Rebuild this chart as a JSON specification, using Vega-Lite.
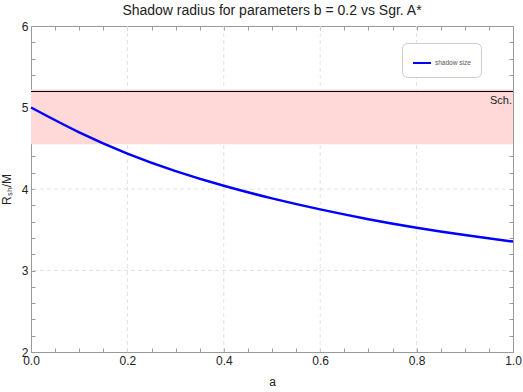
{
  "$schema": "https://vega.github.io/schema/vega-lite/v6.json",
  "width": 482,
  "height": 326,
  "autosize": "none",
  "padding": {"left": 31, "top": 26, "right": 10, "bottom": 40},
  "config": {
    "font": "Liberation Sans",
    "view": {"stroke": "#999", "strokeWidth": 1},
    "axis": {"labelFont": "Liberation Sans", "titleFont": "Liberation Sans", "labelColor": "#222", "titleColor": "#222", "domain": false, "grid": false, "tickColor": "#999", "labelFontSize": 12, "titleFontSize": 12, "titleFontWeight": "normal"}
  },
  "title": {"text": "Shadow radius for parameters b = 0.2 vs Sgr. A*", "fontSize": 14, "fontWeight": "normal", "font": "Liberation Sans", "color": "#222", "offset": 2},
  "datasets": {
    "curve": [
      {"a": 0.0, "r": 5.0},
      {"a": 0.1, "r": 4.695},
      {"a": 0.2, "r": 4.435},
      {"a": 0.3, "r": 4.22},
      {"a": 0.4, "r": 4.04},
      {"a": 0.5, "r": 3.885},
      {"a": 0.6, "r": 3.75},
      {"a": 0.7, "r": 3.63},
      {"a": 0.8, "r": 3.525},
      {"a": 0.9, "r": 3.435},
      {"a": 1.0, "r": 3.355}
    ],
    "gridx": [{"a": 0.2}, {"a": 0.4}, {"a": 0.6}, {"a": 0.8}],
    "gridy": [{"r": 3}, {"r": 4}, {"r": 5}],
    "band": [{"a0": 0, "a1": 1, "lo": 4.55, "hi": 5.22}],
    "sch": [{"a0": 0, "a1": 1, "r": 5.196, "label": "Sch."}]
  },
  "layer": [
    {
      "data": {"name": "gridx"},
      "mark": {"type": "rule", "color": "#e2e2e2", "strokeDash": [4, 3], "strokeWidth": 1},
      "encoding": {
        "x": {"field": "a", "type": "quantitative", "scale": {"domain": [0, 1], "nice": false, "zero": false}, "axis": null}
      }
    },
    {
      "data": {"name": "gridy"},
      "mark": {"type": "rule", "color": "#e2e2e2", "strokeDash": [4, 3], "strokeWidth": 1},
      "encoding": {
        "y": {"field": "r", "type": "quantitative", "scale": {"domain": [2, 6], "nice": false, "zero": false}, "axis": null}
      }
    },
    {
      "data": {"name": "band"},
      "mark": {"type": "rect", "color": "#ffd8d8"},
      "encoding": {
        "x": {"field": "a0", "type": "quantitative", "axis": null},
        "x2": {"field": "a1"},
        "y": {"field": "lo", "type": "quantitative", "axis": null},
        "y2": {"field": "hi"}
      }
    },
    {
      "data": {"name": "sch"},
      "mark": {"type": "rule", "color": "#000", "strokeWidth": 1},
      "encoding": {
        "x": {"field": "a0", "type": "quantitative", "axis": {"orient": "top", "values": [0,0.05,0.1,0.15,0.2,0.25,0.3,0.35,0.4,0.45,0.5,0.55,0.6,0.65,0.7,0.75,0.8,0.85,0.9,0.95,1.0], "labels": false, "grid": false, "title": null, "ticks": true, "tickSize": 4, "offset": -4}},
        "x2": {"field": "a1"},
        "y": {"field": "r", "type": "quantitative", "axis": {"orient": "right", "values": [2,2.2,2.4,2.6,2.8,3,3.2,3.4,3.6,3.8,4,4.2,4.4,4.6,4.8,5,5.2,5.4,5.6,5.8,6], "labels": false, "grid": false, "title": null, "ticks": true, "tickSize": 4, "offset": -4}}
      }
    },
    {
      "data": {"name": "sch"},
      "mark": {"type": "text", "align": "right", "baseline": "top", "dy": 3, "dx": -1, "fontSize": 11, "font": "Liberation Sans", "color": "#222"},
      "encoding": {
        "x": {"field": "a1", "type": "quantitative", "axis": null},
        "y": {"field": "r", "type": "quantitative", "axis": null},
        "text": {"field": "label"}
      }
    },
    {
      "data": {"name": "curve"},
      "mark": {"type": "line", "strokeWidth": 2.5, "interpolate": "natural"},
      "encoding": {
        "x": {"field": "a", "type": "quantitative", "title": "a", "axis": {"orient": "bottom", "values": [0,0.05,0.1,0.15,0.2,0.25,0.3,0.35,0.4,0.45,0.5,0.55,0.6,0.65,0.7,0.75,0.8,0.85,0.9,0.95,1.0], "labelExpr": "abs(datum.value*5-round(datum.value*5))<0.001 ? format(datum.value, '.1f') : ''", "labelPadding": 3, "titlePadding": 10, "ticks": true, "tickSize": 4, "offset": -4, "grid": false, "labelOverlap": false, "labelFlush": false}},
        "y": {"field": "r", "type": "quantitative", "title": "Rₛₕ/M", "axis": {"orient": "left", "values": [2,2.2,2.4,2.6,2.8,3,3.2,3.4,3.6,3.8,4,4.2,4.4,4.6,4.8,5,5.2,5.4,5.6,5.8,6], "labelExpr": "abs(datum.value-round(datum.value))<0.001 ? format(datum.value, 'd') : ''", "labelPadding": 3, "titlePadding": 8, "ticks": true, "tickSize": 4, "offset": -4, "grid": false, "labelOverlap": false, "labelFlush": false}},
        "color": {"datum": "shadow size", "type": "nominal", "scale": {"range": ["#0000ff"]}, "legend": {"title": null, "orient": "none", "legendX": 371, "legendY": 17, "symbolType": "stroke", "symbolStrokeWidth": 2, "symbolSize": 324, "labelFontSize": 6.5, "labelColor": "#555", "labelFont": "Liberation Sans", "padding": 10, "strokeColor": "#ccc", "cornerRadius": 5, "fillColor": "#fff", "labelOffset": 3}}
      }
    }
  ],
  "resolve": {"axis": {"x": "independent", "y": "independent"}}
}
